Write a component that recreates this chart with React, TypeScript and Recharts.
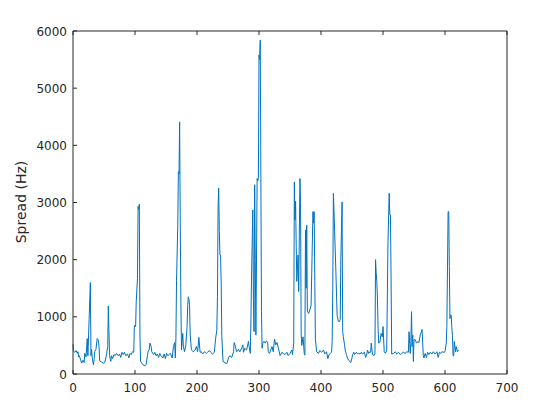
import React from 'react'
import { LineChart, Line, XAxis, YAxis } from 'recharts'

// frame index (x) and spectral spread in Hz (y)
const frames = [
  0, 1, 3, 5, 7, 8, 9, 10, 12, 14, 16, 18, 19, 21, 23, 24, 26, 28, 29, 30,
  31, 33, 34, 35, 37, 39, 41, 42, 43, 46, 49, 51, 53, 54, 56, 57, 58, 59, 61, 62,
  64, 66, 68, 70, 73, 75, 77, 79, 81, 83, 85, 88, 90, 92, 94, 96, 98, 99, 101, 102,
  104, 105, 106, 107, 108, 109, 111, 113, 116, 118, 120, 121, 123, 124, 126, 127, 130, 132, 134, 136,
  138, 140, 142, 145, 147, 149, 151, 153, 155, 157, 160, 162, 164, 165, 166, 167, 169, 170, 171, 172,
  173, 174, 175, 177, 178, 180, 182, 184, 185, 186, 187, 188, 189, 191, 194, 197, 199, 201, 203, 205,
  207, 209, 212, 215, 217, 220, 222, 225, 228, 230, 232, 233, 234, 235, 236, 237, 238, 239, 240, 242,
  245, 248, 250, 251, 253, 256, 259, 260, 262, 264, 267, 269, 272, 274, 275, 277, 280, 283, 284, 286,
  287, 288, 290, 291, 292, 293, 294, 295, 297, 298, 299, 300, 301, 302, 303, 304, 305, 306, 308, 310,
  312, 314, 315, 317, 319, 321, 323, 325, 327, 329, 332, 334, 337, 339, 342, 345, 347, 350, 353, 354,
  356, 357, 358, 359, 360, 361, 363, 364, 365, 366, 367, 368, 369, 371, 373, 374, 375, 376, 377, 378,
  380, 382, 384, 385, 387, 388, 389, 390, 391, 393, 396, 398, 401, 404, 406, 409, 411, 413, 415, 417,
  418, 419, 420, 421, 422, 424, 426, 428, 430, 431, 432, 434, 435, 436, 438, 439, 441, 443, 445, 446,
  448, 450, 451, 453, 454, 457, 459, 461, 463, 465, 467, 470, 472, 474, 475, 477, 479, 480, 481, 483,
  485, 487, 488, 489, 490, 491, 492, 493, 495, 497, 499, 500, 502, 504, 506, 508, 510, 511, 512, 513,
  514, 517, 520, 522, 525, 528, 530, 533, 536, 538, 541, 542, 543, 544, 545, 546, 547, 548, 549, 550,
  552, 554, 556, 558, 560, 561, 563, 565, 566, 568, 570, 572, 574, 576, 579, 581, 584, 587, 589, 591,
  593, 595, 598, 600, 602, 603, 605, 606, 607, 608, 609, 610, 611, 612, 613, 614, 615, 617, 618, 620,
  622,
]

const spread = [
  520, 400, 380, 410, 360, 390, 300, 320, 260, 190, 240, 200, 360, 300, 620, 320, 950, 1600, 320, 430,
  280, 160, 250, 390, 430, 620, 590, 480, 230, 210, 190, 200, 280, 340, 480, 1190, 740, 320, 220, 320,
  270, 340, 320, 360, 320, 350, 290, 380, 340, 380, 320, 350, 280, 360, 340, 390, 380, 850, 830, 1270,
  1670, 2930, 2880, 2970, 650, 220, 190, 160, 140, 170, 320, 390, 430, 540, 480, 390, 340, 380, 320, 350,
  290, 360, 320, 280, 350, 270, 360, 320, 340, 360, 280, 480, 550, 280, 620, 1640, 2600, 3540, 3500, 4410,
  2660, 1240, 420, 710, 480, 390, 510, 830, 1200, 1350, 1300, 1210, 700, 420, 390, 420, 480, 390, 640, 380,
  390, 350, 390, 360, 380, 410, 380, 350, 380, 620, 770, 1350, 2930, 3250, 2490, 2080, 2080, 1610, 660, 220,
  200, 180, 250, 290, 320, 290, 390, 550, 480, 390, 430, 390, 450, 510, 380, 450, 420, 570, 480, 360,
  960, 1730, 2870, 1300, 740, 3310, 2000, 680, 3420, 3380, 3420, 5580, 5500, 5840, 3420, 1090, 450, 540, 570, 540,
  580, 550, 390, 360, 420, 480, 390, 610, 510, 550, 420, 320, 380, 360, 340, 380, 320, 360, 420, 340,
  540, 3360, 2700, 3020, 2260, 1620, 2080, 1440, 2420, 3420, 3000, 700, 500, 650, 360, 330, 2520, 1500, 2600, 1100,
  1060, 1120, 1200, 1730, 2840, 2640, 2840, 1620, 600, 390, 360, 410, 380, 420, 350, 390, 270, 340, 360, 380,
  570, 1500, 3160, 2840, 2500, 1790, 1030, 920, 920, 950, 2020, 3010, 740, 650, 510, 420, 340, 270, 240, 220,
  200, 280, 340, 380, 340, 380, 350, 360, 350, 380, 350, 380, 290, 350, 420, 360, 390, 380, 540, 350,
  320, 350, 2000, 1770, 1620, 1330, 830, 540, 560, 710, 650, 830, 390, 360, 420, 2290, 3160, 2780, 2780, 1730,
  350, 360, 390, 350, 380, 340, 360, 380, 360, 390, 380, 740, 540, 360, 570, 1090, 480, 680, 220, 600,
  600, 540, 570, 550, 680, 710, 780, 320, 280, 360, 290, 380, 340, 380, 350, 390, 350, 390, 290, 380,
  360, 390, 380, 390, 540, 830, 2840, 2840, 1880, 970, 1030, 1030, 810, 670, 320, 320, 570, 390, 480, 390,
  420,
]

const xTicks = [0, 100, 200, 300, 400, 500, 600, 700]
const yTicks = [0, 1000, 2000, 3000, 4000, 5000, 6000]

const axisColor = '#262626'
const fontFamily = '"DejaVu Sans", sans-serif'

const BottomTick = (props: any) => {
  const { x, y, payload } = props
  return (
    <g>
      <line x1={x} x2={x} y1={y} y2={y - 4} stroke={axisColor} strokeWidth={1} />
      <text x={x} y={y + 18} textAnchor="middle" fill={axisColor} fontSize={12} fontFamily={fontFamily}>
        {payload.value}
      </text>
    </g>
  )
}

const TopTick = (props: any) => {
  const { x, y } = props
  return <line x1={x} x2={x} y1={y} y2={y + 4} stroke={axisColor} strokeWidth={1} />
}

const LeftTick = (props: any) => {
  const { x, y, payload } = props
  return (
    <g>
      <line x1={x} x2={x + 4} y1={y} y2={y} stroke={axisColor} strokeWidth={1} />
      <text x={x - 6} y={y + 4.5} textAnchor="end" fill={axisColor} fontSize={12} fontFamily={fontFamily}>
        {payload.value}
      </text>
    </g>
  )
}

const RightTick = (props: any) => {
  const { x, y } = props
  return <line x1={x} x2={x - 4} y1={y} y2={y} stroke={axisColor} strokeWidth={1} />
}

export default function App() {
  const data = frames.map((f, i) => ({ frame: f, spread: spread[i] }))

  return (
    <div style={{ position: 'absolute', left: 0, top: 0, width: 560, height: 420, background: '#fff' }}>
      <LineChart
        width={560}
        height={420}
        data={data}
        margin={{ top: 21, right: 43, bottom: 16, left: 13 }}
      >
        <XAxis
          dataKey="frame"
          type="number"
          domain={[0, 700]}
          ticks={xTicks}
          interval={0}
          height={30}
          tickSize={0}
          tickMargin={0}
          tickLine={false}
          tick={<BottomTick />}
          axisLine={{ stroke: axisColor, strokeWidth: 1 }}
        />
        <XAxis
          xAxisId="top"
          orientation="top"
          dataKey="frame"
          type="number"
          domain={[0, 700]}
          ticks={xTicks}
          interval={0}
          height={10}
          tickSize={0}
          tickMargin={0}
          tickLine={false}
          tick={<TopTick />}
          axisLine={{ stroke: axisColor, strokeWidth: 1 }}
        />
        <YAxis
          type="number"
          domain={[0, 6000]}
          ticks={yTicks}
          interval={0}
          width={60}
          tickSize={0}
          tickMargin={0}
          tickLine={false}
          tick={<LeftTick />}
          axisLine={{ stroke: axisColor, strokeWidth: 1 }}
        />
        <YAxis
          yAxisId="right"
          orientation="right"
          type="number"
          domain={[0, 6000]}
          ticks={yTicks}
          interval={0}
          width={10}
          tickSize={0}
          tickMargin={0}
          tickLine={false}
          tick={<RightTick />}
          axisLine={{ stroke: axisColor, strokeWidth: 1 }}
        />
        <Line
          type="linear"
          dataKey="spread"
          stroke="#0072BD"
          strokeWidth={1}
          dot={false}
          activeDot={false}
          isAnimationActive={false}
        />
      </LineChart>
      <svg width={560} height={420} style={{ position: 'absolute', left: 0, top: 0, pointerEvents: 'none' }}>
        <text
          x={26}
          y={202}
          transform="rotate(-90, 26, 202)"
          textAnchor="middle"
          fill={axisColor}
          fontSize={14}
          fontFamily={fontFamily}
        >
          Spread (Hz)
        </text>
      </svg>
    </div>
  )
}
